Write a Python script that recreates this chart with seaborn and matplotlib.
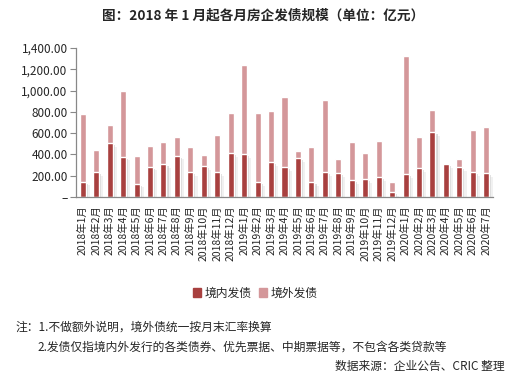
import numpy as np
import pandas as pd
import matplotlib
matplotlib.use("Agg")
import matplotlib.pyplot as plt
import matplotlib.patheffects as pe
from matplotlib.patches import Patch
import seaborn as sns

months = ["2018年1月", "2018年2月", "2018年3月", "2018年4月", "2018年5月", "2018年6月",
          "2018年7月", "2018年8月", "2018年9月", "2018年10月", "2018年11月", "2018年12月",
          "2019年1月", "2019年2月", "2019年3月", "2019年4月", "2019年5月", "2019年6月",
          "2019年7月", "2019年8月", "2019年9月", "2019年10月", "2019年11月", "2019年12月",
          "2020年1月", "2020年2月", "2020年3月", "2020年4月", "2020年5月", "2020年6月",
          "2020年7月"]
domestic = [142, 233, 506, 377, 123, 283, 308, 387, 233, 289, 233, 412,
            403, 138, 327, 280, 365, 138, 233, 223, 157, 167, 186, 44,
            214, 270, 610, 308, 280, 233, 223]
total = [780, 440, 676, 997, 384, 478, 516, 563, 469, 393, 582, 789,
         1242, 789, 808, 940, 431, 469, 912, 355, 516, 412, 525, 138,
         1327, 563, 818, 308, 355, 629, 657]
overseas = [t - d for t, d in zip(total, domestic)]
series_names = ["境内发债", "境外发债"]
yticks = [0, 200, 400, 600, 800, 1000, 1200, 1400]

sns.set_style("white")
plt.rcParams['font.family'] = ['Noto Sans CJK SC', 'DejaVu Sans']

dark = "#A8403F"
pink = "#D4979A"

df = pd.DataFrame({"month": months, "domestic": domestic, "total": total})

fig = plt.figure(figsize=(5.13, 3.79), dpi=100)
W, H = 513, 379
left, right, top0, base = 76, 493, 48, 197
ax = fig.add_axes([left / W, 1 - base / H, (right - left) / W, (base - top0) / H])

sns.barplot(data=df, x="month", y="total", color=pink, width=0.45, ax=ax, saturation=1)
n_before = len(ax.patches)
sns.barplot(data=df, x="month", y="domestic", color=dark, width=0.45, ax=ax, saturation=1)
for p in ax.patches[n_before:]:
    p.set_path_effects([pe.SimplePatchShadow(offset=(1.5, -1.5), shadow_rgbFace="#9a9a9a", alpha=0.35),
                        pe.SimplePatchShadow(offset=(3, -2.5), shadow_rgbFace="#c8c8c8", alpha=0.25),
                        pe.Normal()])
if ax.get_legend() is not None:
    ax.get_legend().remove()

ax.set_ylim(0, 1400)
ax.set_xlim(-0.5, len(months) - 0.5)
ax.set_yticks(yticks)
ax.set_yticklabels(["–" if v == 0 else f"{v:,.2f}" for v in yticks], fontsize=8.5)
ax.set_xticks(range(len(months)))
ax.set_xticklabels(months, rotation=90, fontsize=7.5)
ax.set_xticks(np.arange(-0.5, len(months), 1), minor=True)
ax.tick_params(axis="x", which="major", length=0, pad=6)
ax.tick_params(axis="x", which="minor", length=4, color="#888888", width=0.8)
ax.tick_params(axis="y", length=4, color="#888888", width=0.8, pad=2, left=True)
ax.set_xlabel("")
ax.set_ylabel("")
for s in ["top", "right"]:
    ax.spines[s].set_visible(False)
for s in ["left", "bottom"]:
    ax.spines[s].set_color("#888888")
    ax.spines[s].set_linewidth(0.9)

fig.text(263 / W, 1 - 15 / H, "图：2018 年 1 月起各月房企发债规模（单位：亿元）",
         ha="center", va="center", fontsize=9.8, fontweight="bold")

handles = [Patch(color=dark), Patch(color=pink)]
fig.legend(handles, series_names, loc="center", bbox_to_anchor=(255 / W, 1 - 293 / H),
           ncol=2, frameon=False, fontsize=8.5, handlelength=0.7, handleheight=0.7,
           handletextpad=0.3, columnspacing=0.6)

fig.text(15 / W, 1 - 327 / H, "注：1.不做额外说明，境外债统一按月末汇率换算",
         ha="left", va="center", fontsize=8.5)
fig.text(37 / W, 1 - 347 / H, "2.发债仅指境内外发行的各类债券、优先票据、中期票据等，不包含各类贷款等",
         ha="left", va="center", fontsize=8.5)
fig.text(505 / W, 1 - 366 / H, "数据来源：企业公告、CRIC 整理",
         ha="right", va="center", fontsize=8.5)

fig.savefig("out.png", dpi=100)
